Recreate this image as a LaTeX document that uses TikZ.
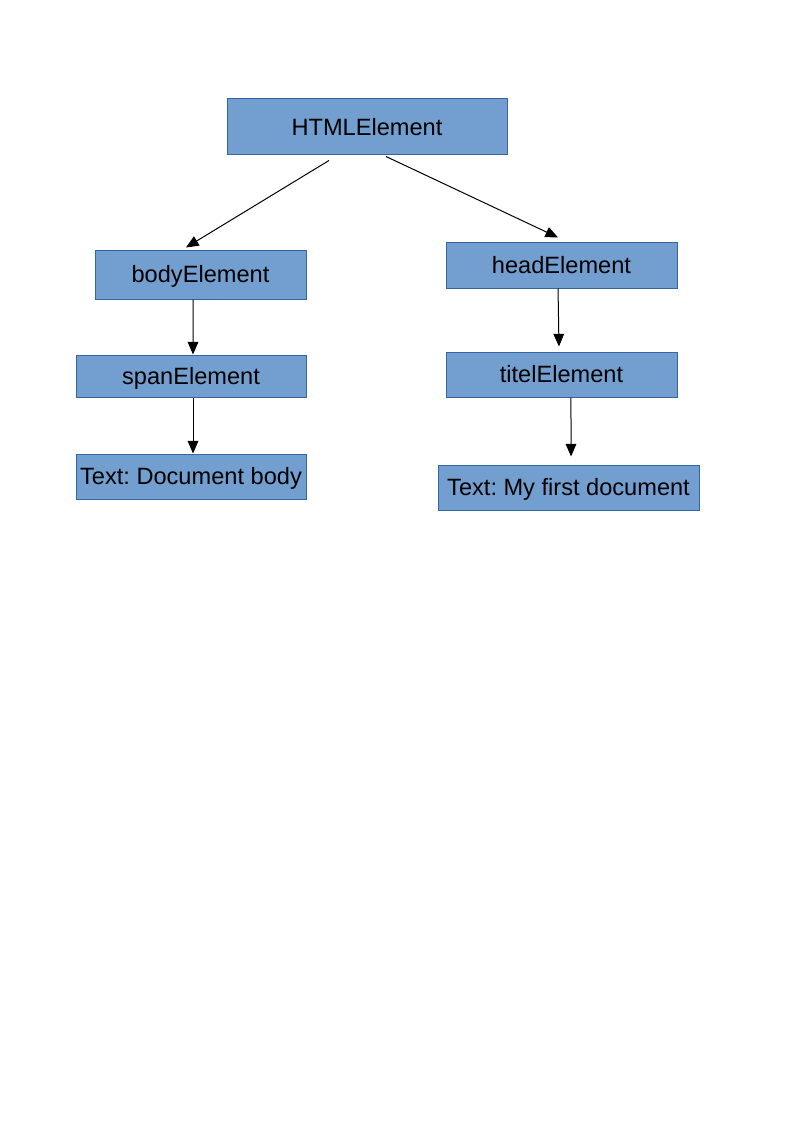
\documentclass[tikz,border=0pt]{standalone}
\usepackage{fontspec}
\setmainfont{Liberation Sans}
\usepackage{tikz}
\usetikzlibrary{shapes,arrows.meta,positioning}

\definecolor{boxfill}{HTML}{729FCF}
\definecolor{boxline}{HTML}{3465A4}
\frenchspacing

\begin{document}
\begin{tikzpicture}[x=0.75pt,y=-0.75pt,
  elem/.style={draw=boxline, fill=boxfill, line width=0.75pt, inner sep=1pt,
    font=\fontsize{17.7}{20}\selectfont, text=black,
    text height=16pt, text depth=3.75pt},
  link/.style={-{Triangle[length=9.5pt,width=8pt]}, line width=0.75pt}]
\useasboundingbox (0,0) rectangle (794,1123);
% root
\node[elem, minimum width=210pt, minimum height=42pt] (html) at (367,127) {HTMLElement};
% left branch
\node[elem, minimum width=158.25pt, minimum height=36.75pt] (body) at (200.5,274.5) {bodyElement};
\node[elem, minimum width=172.5pt, minimum height=31.5pt] (span) at (191,376) {spanElement};
\node[elem, minimum width=172.5pt, minimum height=33.75pt] (bodytext) at (191,476.5) {Text: Document body};
% right branch
\node[elem, minimum width=173.25pt, minimum height=34.5pt] (head) at (561.5,265) {headElement};
\node[elem, minimum width=173.25pt, minimum height=33.75pt] (titel) at (561.5,374.5) {titelElement};
\node[elem, minimum width=195.75pt, minimum height=33.75pt] (titeltext) at (568.5,487.5) {Text: My first document};

\draw[link] ([xshift=-28.5pt,yshift=-3.75pt]html.south) -- ([xshift=-10.9pt,yshift=1.5pt]body.north);
\draw[link] ([xshift=14.25pt,yshift=-0.75pt]html.south) -- ([xshift=-2.6pt,yshift=3pt]head.north);
\draw[link] ([xshift=-5.6pt]body.south) -- ([xshift=1.5pt]span.north);
\draw[link] ([xshift=-2.6pt]head.south) -- ([xshift=-1.9pt,yshift=3.75pt]titel.north);
\draw[link] ([xshift=1.5pt]span.south) -- ([xshift=1.5pt]bodytext.north);
\draw[link] ([xshift=7.1pt]titel.south) -- ([xshift=1.9pt,yshift=6pt]titeltext.north);
\end{tikzpicture}
\end{document}
